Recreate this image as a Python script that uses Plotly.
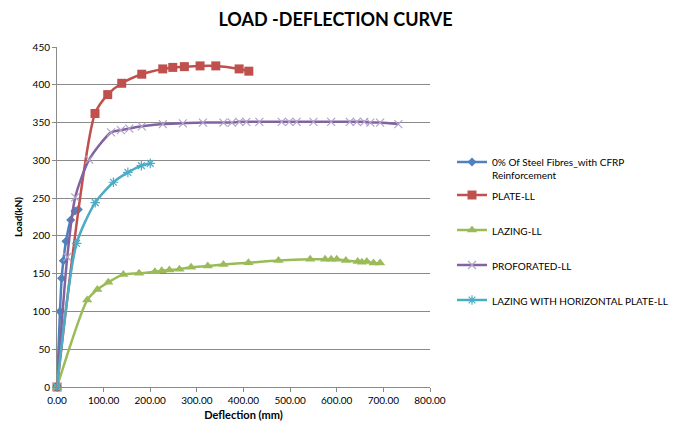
import plotly.graph_objects as go

# ---- data ----
blue_x = [0, 6.4, 10, 13.6, 19.3, 29.4, 38.6, 45.7]
blue_y = [0, 100, 144, 167, 193, 221, 233, 235]

red_x = [0, 81.5, 108.8, 138.8, 181.8, 226.8, 248.3, 273.2, 306.9, 340.6, 390.6, 411.4]
red_y = [0, 362, 387, 402, 414, 421, 423, 424, 425, 425, 421, 418]

green_x = [0, 64.8, 86.5, 110, 142.3, 176, 210, 224.6, 241, 262.5, 287.6, 323.3, 357,
           410.5, 475, 543, 575, 588, 600, 619.5, 645, 654, 664.5, 679, 693]
green_y = [0, 115, 129, 138.5, 149, 150.5, 152.6, 154, 155, 156, 158.4, 160, 162,
           164.5, 167.5, 169, 169, 169, 169, 167.5, 166, 165, 166, 164, 164]

purple_x = [0, 22, 39, 69, 116, 137, 155, 182, 227, 270, 313, 357, 375, 391, 406, 434,
            482, 498, 514, 550, 588, 628, 643, 659, 672, 693, 732]
purple_y = [0, 172, 251, 301, 337, 340, 342, 345, 348, 349, 350, 350, 350, 351, 351, 351,
            351, 351, 351, 351, 351, 351, 351, 351, 350, 350, 348]

cyan_x = [0, 42, 82, 121, 152, 181, 200]
cyan_y = [0, 190, 244, 271, 284, 293, 296]

names = ["0% Of Steel Fibres_with CFRP<br>Reinforcement", "PLATE-LL", "LAZING-LL",
         "PROFORATED-LL", "LAZING WITH HORIZONTAL PLATE-LL"]
x_ticks = [0, 100, 200, 300, 400, 500, 600, 700, 800]
y_ticks = [0, 50, 100, 150, 200, 250, 300, 350, 400, 450]

FONT = "Lato"
GRID = "#8a8a8a"
L, R, T, B = 57, 246, 47, 40
PW, PH = 676 - L - R, 427 - T - B

fig = go.Figure()

def add(x, y, name, color, symbol, size, mline=None, grp="g", legend="legend"):
    marker = dict(symbol=symbol, size=size, color=color)
    if mline is not None:
        marker["line"] = dict(color=mline, width=1.2)
    fig.add_trace(go.Scatter(
        x=x, y=y, name=name, mode="lines+markers",
        line=dict(color=color, width=2.5, shape="spline", smoothing=0.7),
        marker=marker, cliponaxis=False, legendgroup=grp, legend=legend))

add(blue_x, blue_y, names[0], "#4F81BD", "diamond", 7, grp="a", legend="legend")
add(red_x, red_y, names[1], "#C0504D", "square", 9, grp="b", legend="legend2")
add(green_x, green_y, names[2], "#9BBB59", "triangle-up", 9, grp="c", legend="legend2")
add(purple_x, purple_y, names[3], "#8064A2", "x-thin", 8, mline="#B3A2C7", grp="d", legend="legend2")
add(cyan_x, cyan_y, names[4], "#4BACC6", "asterisk", 8, mline="#4BACC6", grp="e", legend="legend2")

def px_x(p):
    return (p - L) / PW

def px_y(p):
    return 1 - (p - T) / PH

leg_common = dict(xanchor="left", yanchor="top", font=dict(family=FONT, size=10),
                  valign="top", traceorder="grouped", bgcolor="rgba(0,0,0,0)",
                  itemwidth=30)

fig.update_layout(
    width=676, height=427,
    margin=dict(l=L, r=R, t=T, b=B, autoexpand=False),
    paper_bgcolor="white", plot_bgcolor="white",
    font=dict(family=FONT, size=10, color="#000000"),
    title=dict(text="<b>LOAD -DEFLECTION CURVE</b>", x=335.5 / 676, xanchor="center",
               y=1 - 20 / 427, yanchor="middle", font=dict(family=FONT, size=18, color="#000")),
    showlegend=True,
    legend=dict(x=px_x(452), y=px_y(149), **leg_common),
    legend2=dict(x=px_x(452), y=px_y(182), tracegroupgap=16, **leg_common),
)

fig.update_xaxes(
    range=[0, 800], tickvals=x_ticks, ticktext=[f"{v:.2f}" for v in x_ticks],
    showgrid=False, zeroline=False, showline=True, linecolor=GRID, linewidth=1,
    ticks="outside", ticklen=4, tickcolor=GRID,
    title=dict(text="<b>Deflection (mm)</b>", font=dict(family=FONT, size=11), standoff=6),
)
fig.update_yaxes(
    range=[0, 450], tickvals=y_ticks,
    showgrid=True, gridcolor=GRID, gridwidth=1, zeroline=False,
    showline=True, linecolor=GRID, linewidth=1,
    ticks="outside", ticklen=4, tickcolor=GRID,
    title=dict(text="<b>Load(kN)</b>", font=dict(family=FONT, size=10), standoff=8),
)

fig.write_html("out.html")
